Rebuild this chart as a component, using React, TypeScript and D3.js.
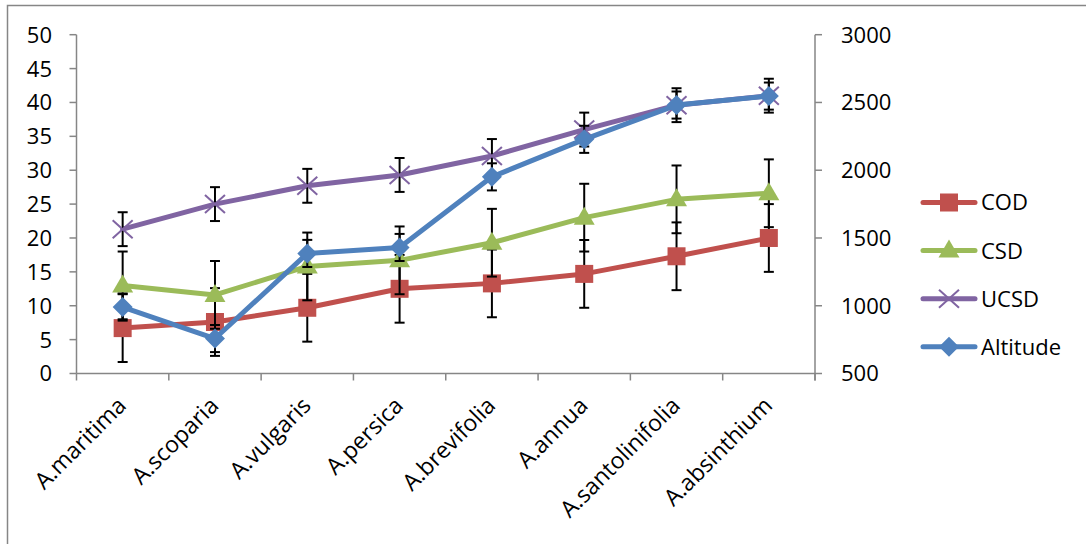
import React from 'react';
import * as d3 from 'd3';

const species = ['A.maritima', 'A.scoparia', 'A.vulgaris', 'A.persica', 'A.brevifolia', 'A.annua', 'A.santolinifolia', 'A.absinthium'];

const cod = [6.7, 7.6, 9.7, 12.5, 13.3, 14.7, 17.3, 20.0];
const codErr = [5, 5, 5, 5, 5, 5, 5, 5];
const csd = [13.0, 11.6, 15.8, 16.7, 19.3, 23.0, 25.7, 26.6];
const csdErr = [5, 5, 5, 5, 5, 5, 5, 5];
const ucsd = [21.3, 25.0, 27.7, 29.3, 32.1, 36.0, 39.6, 41.0];
const ucsdErr = [2.5, 2.5, 2.5, 2.5, 2.5, 2.5, 2.5, 2.5];
const altitude = [990, 758, 1386, 1430, 1951, 2228, 2481, 2547];
const altitudeErr = [100, 100, 100, 100, 100, 100, 100, 100];

const leftTicks = [0, 5, 10, 15, 20, 25, 30, 35, 40, 45, 50];
const rightTicks = [500, 1000, 1500, 2000, 2500, 3000];

const W = 1086;
const H = 544;
const plot = { left: 76.5, right: 815, top: 34.7, bottom: 373.5 };
const FONT = '"Open Sans", "Noto Sans", sans-serif';
const AXIS = '#868686';

const x = d3.scaleBand<string>().domain(species).range([plot.left, plot.right]).padding(0);
const cx = (s: string) => (x(s) as number) + x.bandwidth() / 2;
const yL = d3.scaleLinear().domain([0, 50]).range([plot.bottom, plot.top]);
const yR = d3.scaleLinear().domain([500, 3000]).range([plot.bottom, plot.top]);

type Marker = 'square' | 'triangle' | 'x' | 'diamond';

const seriesList = [
  { name: 'COD', values: cod, err: codErr, color: '#C0504D', marker: 'square' as Marker, y: yL },
  { name: 'CSD', values: csd, err: csdErr, color: '#9BBB59', marker: 'triangle' as Marker, y: yL },
  { name: 'UCSD', values: ucsd, err: ucsdErr, color: '#8064A2', marker: 'x' as Marker, y: yL },
  { name: 'Altitude', values: altitude, err: altitudeErr, color: '#4F81BD', marker: 'diamond' as Marker, y: yR },
];

const MarkerShape = ({ type, color, px, py }: { type: Marker; color: string; px: number; py: number }) => {
  if (type === 'square') {
    return <rect x={px - 9} y={py - 9} width={18} height={18} fill={color} />;
  }
  if (type === 'triangle') {
    return <path d={`M${px},${py - 11}L${px + 10.5},${py + 7}L${px - 10.5},${py + 7}Z`} fill={color} />;
  }
  if (type === 'diamond') {
    return <path d={`M${px},${py - 10}L${px + 10},${py}L${px},${py + 10}L${px - 10},${py}Z`} fill={color} />;
  }
  return (
    <g stroke={color} strokeWidth={2}>
      <line x1={px - 10} y1={py - 9} x2={px + 10} y2={py + 9} />
      <line x1={px - 10} y1={py + 9} x2={px + 10} y2={py - 9} />
    </g>
  );
};

const App = () => {
  const boundaries = [...species.map((s) => x(s) as number), plot.right];

  return (
    <svg width={W} height={H} style={{ position: 'absolute', left: 0, top: 0, display: 'block', background: '#fff' }} fontFamily={FONT}>
      <rect x={7.5} y={5.5} width={1200} height={700} fill="#fff" stroke={AXIS} strokeWidth={1.5} />

      {/* axes */}
      <g stroke={AXIS} strokeWidth={1.5}>
        <line x1={plot.left} y1={plot.top} x2={plot.left} y2={plot.bottom} />
        {leftTicks.map((t) => (
          <line key={t} x1={plot.left - 7} x2={plot.left} y1={yL(t)} y2={yL(t)} />
        ))}
        <line x1={plot.right} y1={plot.top} x2={plot.right} y2={plot.bottom + 7} />
        {rightTicks.map((t) => (
          <line key={t} x1={plot.right} x2={plot.right + 7} y1={yR(t)} y2={yR(t)} />
        ))}
        <line x1={plot.left} y1={plot.bottom} x2={plot.right} y2={plot.bottom} />
        {boundaries.map((b, i) => (
          <line key={i} x1={b} x2={b} y1={plot.bottom} y2={plot.bottom + 7} />
        ))}
      </g>

      <g fontSize={22} fill="#000">
        {leftTicks.map((t) => (
          <text key={t} x={52} y={yL(t)} dy="0.36em" textAnchor="end">{t}</text>
        ))}
        {rightTicks.map((t) => (
          <text key={t} x={841} y={yR(t)} dy="0.36em" textAnchor="start">{t}</text>
        ))}
        {species.map((s) => (
          <text key={s} fontSize={23} textAnchor="end" transform={`translate(${cx(s) + 5},${407}) rotate(-45)`}>{s}</text>
        ))}
      </g>

      {/* series */}
      {seriesList.map((ser) => {
        const line = d3.line<number>().x((_, i) => cx(species[i])).y((v) => ser.y(v));
        return (
          <g key={ser.name}>
            <path d={line(ser.values) ?? ''} fill="none" stroke={ser.color} strokeWidth={5} strokeLinejoin="round" strokeLinecap="round" />
            <g stroke="#000" strokeWidth={2}>
              {ser.values.map((v, i) => {
                const px = cx(species[i]);
                const y1 = ser.y(v + ser.err[i]);
                const y2 = ser.y(v - ser.err[i]);
                return (
                  <g key={i}>
                    <line x1={px} x2={px} y1={y1} y2={y2} />
                    <line x1={px - 5} x2={px + 5} y1={y1} y2={y1} />
                    <line x1={px - 5} x2={px + 5} y1={y2} y2={y2} />
                  </g>
                );
              })}
            </g>
            {ser.values.map((v, i) => (
              <MarkerShape key={i} type={ser.marker} color={ser.color} px={cx(species[i])} py={ser.y(v)} />
            ))}
          </g>
        );
      })}

      {/* legend */}
      {seriesList.map((ser, i) => {
        const ly = 202.5 + i * 48.1;
        return (
          <g key={ser.name}>
            <line x1={923} x2={975} y1={ly} y2={ly} stroke={ser.color} strokeWidth={5} strokeLinecap="round" />
            <MarkerShape type={ser.marker} color={ser.color} px={949} py={ly} />
            <text x={981} y={ly} dy="0.36em" fontSize={22} fill="#000">{ser.name}</text>
          </g>
        );
      })}
    </svg>
  );
};

export default App;
